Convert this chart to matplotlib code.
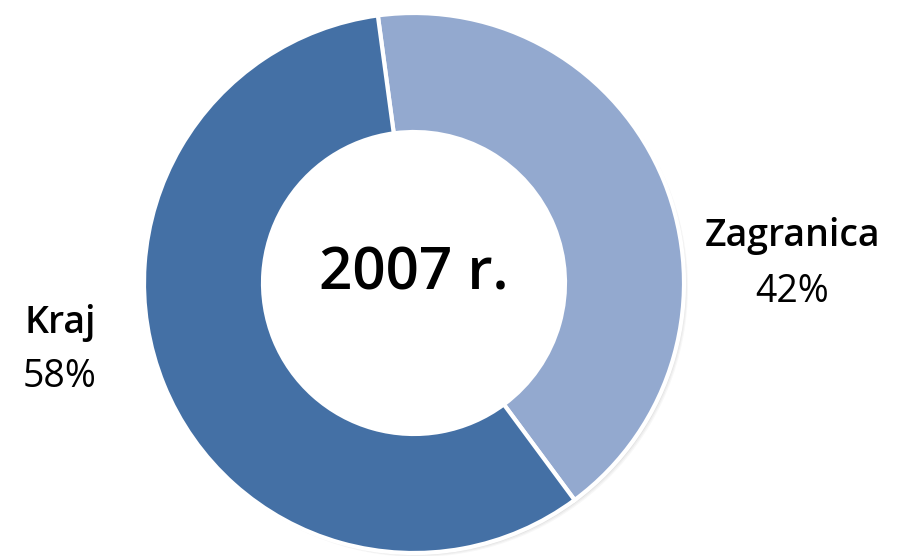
import matplotlib.pyplot as plt
from matplotlib.patches import Circle

labels = ['Zagranica', 'Kraj']
shares = [42, 58]
colors = ['#93A9CF', '#4470A5']
title = '2007 r.'

plt.rcParams['font.family'] = ['Open Sans', 'DejaVu Sans']

fig = plt.figure(figsize=(8.97, 5.56), dpi=100)
ax = fig.add_axes([0, 0, 1, 1])
ax.set_xlim(0, 897)
ax.set_ylim(0, 556)
ax.set_aspect('equal')
ax.axis('off')

cx, cy = 414, 273
r_out, r_in = 270, 151

# soft shadow behind the ring
for i, a in enumerate([0.10, 0.08, 0.06]):
    ax.add_patch(Circle((cx + 2 + i, cy - 2 - i), r_out, color='gray', alpha=a, zorder=0, lw=0))

ax.pie(shares, colors=colors, startangle=97.7, counterclock=False,
       center=(cx, cy), radius=r_out, frame=True,
       wedgeprops=dict(width=r_out - r_in, edgecolor='white', linewidth=3))
ax.add_patch(Circle((cx, cy), r_in, color='white', zorder=5, lw=0))
ax.set_xlim(0, 897)
ax.set_ylim(0, 556)
ax.axis('off')

ax.text(cx, 556 - 275, title, ha='center', va='center', fontsize=42,
        fontweight='semibold', zorder=6)

ax.text(60, 556 - 323, labels[1], ha='center', va='center', fontsize=27, fontweight='semibold')
ax.text(60, 556 - 377, f'{shares[1]}%', ha='center', va='center', fontsize=27)
ax.text(792, 556 - 236, labels[0], ha='center', va='center', fontsize=27, fontweight='semibold')
ax.text(792, 556 - 292, f'{shares[0]}%', ha='center', va='center', fontsize=27)

fig.savefig('out.png', dpi=100)
